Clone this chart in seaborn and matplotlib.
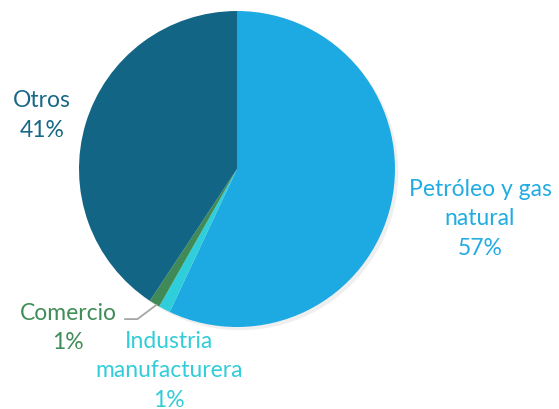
import matplotlib
matplotlib.use("Agg")
import matplotlib.pyplot as plt
import seaborn as sns

# datos
sectores = ["Petróleo y gas\nnatural", "Industria\nmanufacturera", "Comercio", "Otros"]
porcentajes = [57, 1.2, 1.1, 40.7]
etiquetas_pct = ["57%", "1%", "1%", "41%"]

sns.set_theme(style="white")
plt.rcParams["font.family"] = ["Lato", "DejaVu Sans"]

colores = ["#1DA9E1", "#2ECFDB", "#3F8A57", "#136585"]
colores_txt = ["#22ACE2", "#33CCD9", "#3F8D57", "#176787"]

fig = plt.figure(figsize=(5.59, 4.10), dpi=100)
ax = fig.add_axes([0.1413, 0.2, 0.5653, 0.7707])

ax.pie(porcentajes, colors=colores, startangle=90, counterclock=False,
       radius=1, wedgeprops=dict(linewidth=0),
       shadow=dict(ox=0.015, oy=-0.015, shade=0.0, alpha=0.15, color="#999999"))
ax.set_xlim(-1, 1)
ax.set_ylim(-1, 1)
ax.set_aspect("equal")
ax.axis("off")

# posiciones de etiquetas (coords de datos del pastel)
pos = [(1.538, -0.31), (-0.43, -1.27), (-1.07, -1.0), (-1.234, 0.345)]
for nombre, pct, (x, y), c in zip(sectores, etiquetas_pct, pos, colores_txt):
    ax.text(x, y, nombre + "\n" + pct, ha="center", va="center", color=c,
            fontsize=16.5, fontweight="normal", linespacing=1.5, clip_on=False)

# linea guia de Comercio
ax.plot([-0.71, -0.63, -0.51], [-0.95, -0.95, -0.86], color="#A6A6A6",
        linewidth=1.3, clip_on=False)

fig.savefig("out.png", dpi=100)
